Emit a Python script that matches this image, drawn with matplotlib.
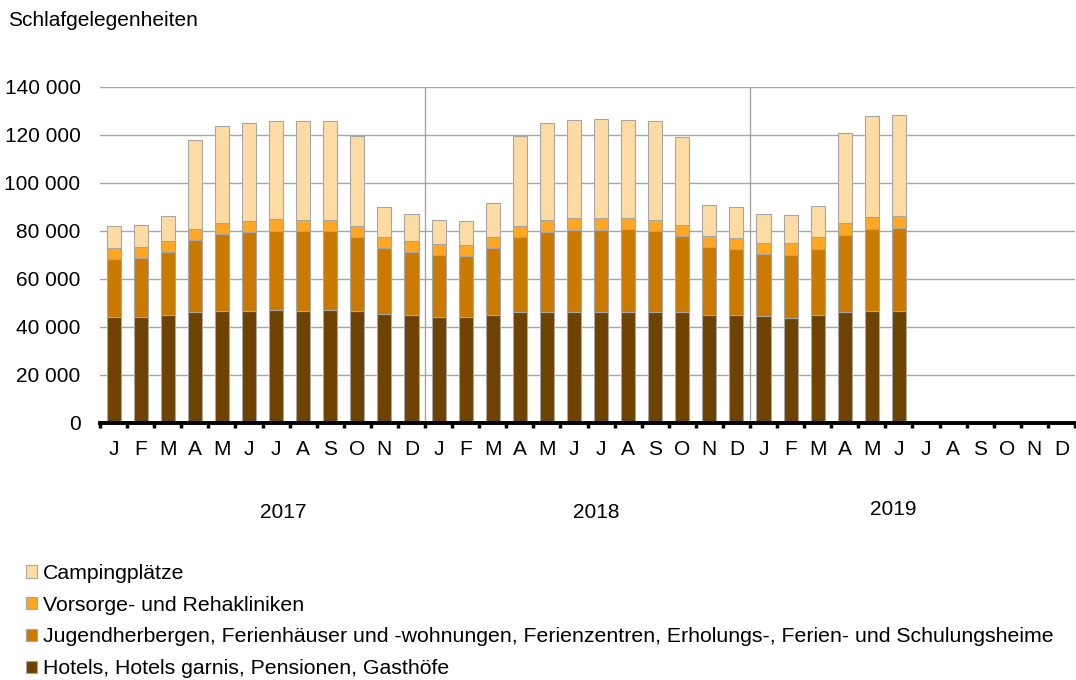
import numpy as np
import matplotlib
matplotlib.use("Agg")
import matplotlib.pyplot as plt
from matplotlib.ticker import FuncFormatter
import matplotlib.transforms as mtransforms

plt.rcParams['font.family'] = ['Liberation Sans', 'DejaVu Sans']

months = ['J', 'F', 'M', 'A', 'M', 'J', 'J', 'A', 'S', 'O', 'N', 'D'] * 3
years = ['2017', '2018', '2019']

# values in thousands, Jan 2017 .. Jun 2019
hotels = [44.0, 44.3, 44.9, 46.2, 46.5, 46.5, 46.9, 46.8, 46.9, 46.7, 45.4, 44.9,
          44.0, 44.0, 45.1, 46.25, 46.4, 46.4, 46.25, 46.4, 46.25, 46.25, 45.0, 44.9,
          44.4, 43.6, 44.9, 46.4, 46.7, 46.5]
jugend = [24.3, 24.3, 26.2, 30.1, 32.25, 32.9, 33.1, 33.2, 33.0, 30.8, 27.4, 26.35,
          26.0, 25.4, 27.8, 31.35, 33.3, 34.0, 34.35, 34.3, 33.65, 31.55, 28.3, 27.5,
          25.9, 26.5, 27.7, 31.8, 34.3, 34.75]
vorsorge = [4.7, 4.7, 4.6, 4.7, 4.75, 4.8, 4.9, 4.7, 4.7, 4.6, 4.8, 4.75,
            4.6, 4.8, 4.7, 4.6, 4.7, 4.9, 4.7, 4.7, 4.5, 4.7, 4.8, 4.7,
            4.8, 4.8, 4.9, 5.0, 4.8, 4.85]
camping = [9.1, 9.2, 10.4, 36.9, 40.25, 40.8, 40.8, 41.1, 41.1, 37.5, 12.5, 11.1,
           9.8, 10.1, 13.9, 37.4, 40.6, 40.8, 41.4, 41.0, 41.6, 36.8, 12.6, 12.9,
           11.9, 11.6, 12.8, 37.6, 42.0, 42.2]

labels = ['Hotels, Hotels garnis, Pensionen, Gasthöfe',
          'Jugendherbergen, Ferienhäuser und -wohnungen, Ferienzentren, Erholungs-, Ferien- und Schulungsheime',
          'Vorsorge- und Rehakliniken',
          'Campingplätze']
colors = ['#6E4200', '#CA7A00', '#FFA623', '#FFDBA4']

series = [np.array(s) * 1000 for s in (hotels, jugend, vorsorge, camping)]
x = np.arange(len(hotels))

fs = 15

fig = plt.figure(figsize=(10.76, 6.8), dpi=100)
ax = fig.add_axes([100 / 1076, 257 / 680, 975 / 1076, 336 / 680])

bottom = np.zeros(len(x))
handles = []
for vals, col, lab in zip(series, colors, labels):
    b = ax.bar(x, vals, 0.52, bottom=bottom, color=col, edgecolor='#A6A6A6',
               linewidth=0.8, label=lab, zorder=3)
    handles.append(b)
    bottom += vals

ax.set_xlim(-0.5, 35.5)
ax.set_ylim(0, 140000)
ax.set_yticks(np.arange(0, 140001, 20000))
ax.yaxis.set_major_formatter(FuncFormatter(lambda v, p: f"{int(v):,}".replace(",", " ")))
ax.grid(axis='y', color='#A6A6A6', linewidth=1, zorder=0)
ax.tick_params(axis='y', length=0, pad=14, labelsize=fs)

ax.set_xticks(np.arange(36))
ax.set_xticklabels(months)
ax.set_xticks(np.arange(-0.5, 36, 1), minor=True)
ax.tick_params(axis='x', which='major', length=0, pad=12, labelsize=fs)
ax.tick_params(axis='x', which='minor', length=3.5, width=2.5, color='black', direction='out')

for s in ['top', 'right', 'left']:
    ax.spines[s].set_visible(False)
ax.spines['bottom'].set_linewidth(2.8)
ax.spines['bottom'].set_zorder(5)

for xv in (11.5, 23.5):
    ax.axvline(xv, color='#A6A6A6', linewidth=1, zorder=1)

trans = mtransforms.blended_transform_factory(ax.transData, ax.transAxes)
for xp, yp, yr in zip([6.26, 17.82, 28.8], [-0.265, -0.265, -0.257], years):
    ax.text(xp, yp, yr, transform=trans, ha='center', va='center', fontsize=fs)

fig.text(8 / 1076, 1 - 20 / 680, 'Schlafgelegenheiten', ha='left', va='center', fontsize=fs)

fig.legend(handles[::-1], labels[::-1], loc='upper left',
           bbox_to_anchor=(26 / 1076, 1 - 564 / 680), frameon=False,
           fontsize=15.3, handlelength=0.5, handleheight=0.5, handletextpad=0.3,
           labelspacing=0.6, borderpad=0, borderaxespad=0)

fig.savefig('out.png', dpi=100)
